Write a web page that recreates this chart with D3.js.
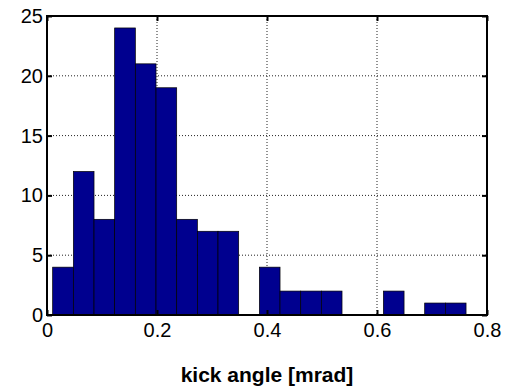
<!DOCTYPE html>
<html>
<head>
<meta charset="utf-8">
<script src="https://cdn.jsdelivr.net/npm/d3@7"></script>
<style>
  body { margin: 0; background: #fff; }
  svg { display: block; font-family: "Liberation Sans", Arial, Helvetica, sans-serif; }
</style>
</head>
<body>
<svg id="chart" width="506" height="389"></svg>
<script>
// histogram bin edges (kick angle, mrad) and counts
const binEdges = [0.0103, 0.0479, 0.0855, 0.1230, 0.1606, 0.1982, 0.2358, 0.2734, 0.3109, 0.3485,
                  0.3861, 0.4237, 0.4613, 0.4988, 0.5364, 0.5740, 0.6116, 0.6492, 0.6867, 0.7243, 0.7619];
const counts = [4, 12, 8, 24, 21, 19, 8, 7, 7, 0, 4, 2, 2, 2, 0, 0, 2, 0, 1, 1];
const xTicks = [0, 0.2, 0.4, 0.6, 0.8];
const yTicks = [0, 5, 10, 15, 20, 25];
const xLabel = 'kick angle [mrad]';

const bins = counts.map((c, i) => ({x0: binEdges[i], x1: binEdges[i + 1], value: c}));

const svg = d3.select('#chart');
const margin = {top: 16, right: 19, bottom: 74, left: 47};
const width = +svg.attr('width');
const height = +svg.attr('height');
const innerWidth = width - margin.left - margin.right;
const innerHeight = height - margin.top - margin.bottom;

const xScale = d3.scaleLinear().domain([0, 0.8]).range([0, innerWidth]);
const yScale = d3.scaleLinear().domain([0, 25]).range([innerHeight, 0]);

const g = svg.append('g')
    .attr('transform', 'translate(' + margin.left + ',' + margin.top + ')');

// dotted grid
g.append('g').selectAll('line')
    .data(xTicks.slice(1, -1))
    .enter().append('line')
    .attr('x1', d => xScale(d)).attr('x2', d => xScale(d))
    .attr('y1', 0).attr('y2', innerHeight)
    .attr('stroke', '#222').attr('stroke-width', 1)
    .attr('stroke-dasharray', '1,2');

g.append('g').selectAll('line')
    .data(yTicks.slice(1, -1))
    .enter().append('line')
    .attr('y1', d => yScale(d)).attr('y2', d => yScale(d))
    .attr('x1', 0).attr('x2', innerWidth)
    .attr('stroke', '#222').attr('stroke-width', 1)
    .attr('stroke-dasharray', '1,2');

// bars
g.selectAll('rect.bar')
    .data(bins)
    .enter().append('rect')
    .attr('class', 'bar')
    .attr('x', d => xScale(d.x0))
    .attr('y', d => yScale(d.value))
    .attr('width', d => xScale(d.x1) - xScale(d.x0))
    .attr('height', d => yScale(0) - yScale(d.value))
    .attr('fill', '#00008F')
    .attr('stroke', '#000')
    .attr('stroke-width', 0.7);

// axes with inward ticks on all sides
const xAxis = d3.axisBottom(xScale).tickValues(xTicks).tickSizeInner(-5).tickSizeOuter(0)
    .tickPadding(8).tickFormat(d => d === 0 ? '0' : d3.format('.1f')(d));
const yAxis = d3.axisLeft(yScale).tickValues(yTicks).tickSizeInner(-5).tickSizeOuter(0)
    .tickPadding(4).tickFormat(d3.format('d'));

const xAxisG = g.append('g').attr('transform', 'translate(0,' + innerHeight + ')').call(xAxis);
const yAxisG = g.append('g').call(yAxis);
const topG = g.append('g').call(d3.axisTop(xScale).tickValues(xTicks).tickSizeInner(-5).tickSizeOuter(0));
const rightG = g.append('g').attr('transform', 'translate(' + innerWidth + ',0)')
    .call(d3.axisRight(yScale).tickValues(yTicks).tickSizeInner(-5).tickSizeOuter(0));
topG.selectAll('text').remove();
rightG.selectAll('text').remove();

g.selectAll('.domain').remove();
g.selectAll('.tick line').attr('stroke', '#000').attr('stroke-width', 2);

xAxisG.selectAll('text').style('font-size', '20px').style('fill', '#000').attr('dy', '0.71em');
yAxisG.selectAll('text').style('font-size', '20px').style('fill', '#000');

// box
g.append('rect')
    .attr('x', 0).attr('y', 0)
    .attr('width', innerWidth).attr('height', innerHeight)
    .attr('fill', 'none')
    .attr('stroke', '#000')
    .attr('stroke-width', 2);

svg.append('text')
    .attr('x', margin.left + innerWidth / 2)
    .attr('y', 382)
    .attr('text-anchor', 'middle')
    .style('font-size', '21px')
    .style('font-weight', 'bold')
    .style('fill', '#000')
    .text(xLabel);
</script>
</body>
</html>
